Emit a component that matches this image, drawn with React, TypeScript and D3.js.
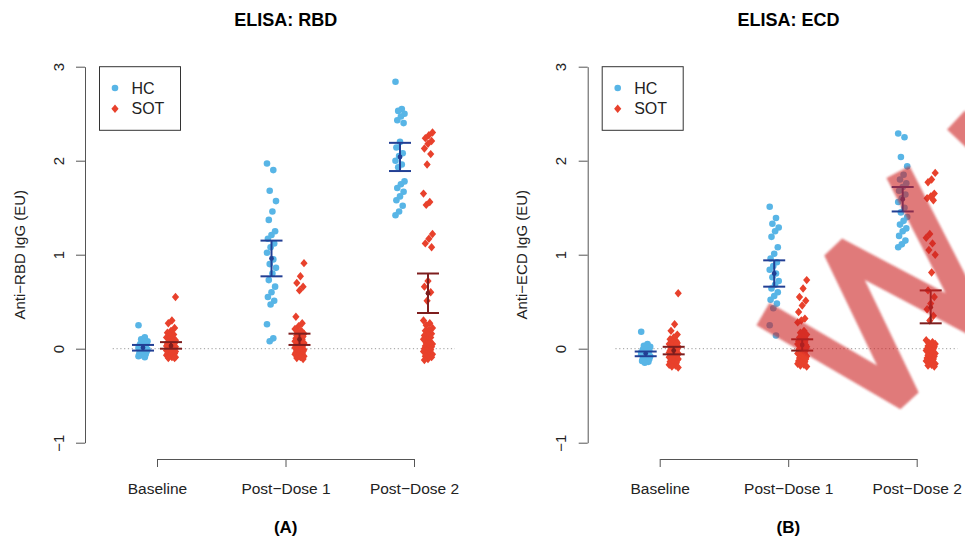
import {useEffect, useRef} from 'react'
import * as d3 from 'd3'

const timepoints = ['Baseline', 'Post\u2212Dose 1', 'Post\u2212Dose 2']
const yTicks = [-1, 0, 1, 2, 3]

// ELISA RBD, healthy controls
const rbdHcBaseline = [0.25, 0.12, 0.10, 0.08, 0.07, 0.05, 0.05, 0.04, 0.03, 0.02, 0.02, 0.01, 0.0, 0.0, -0.01, -0.02, -0.02, -0.03, -0.04, -0.05, -0.06, -0.07, -0.08, -0.09]
const rbdHcDose1 = [1.97, 1.90, 1.68, 1.57, 1.46, 1.37, 1.25, 1.21, 1.17, 1.12, 1.08, 1.02, 0.95, 0.90, 0.86, 0.80, 0.73, 0.66, 0.60, 0.55, 0.51, 0.47, 0.26, 0.11, 0.08]
const rbdHcDose2 = [2.84, 2.55, 2.53, 2.50, 2.47, 2.43, 2.40, 2.20, 2.14, 2.08, 2.05, 2.00, 1.96, 1.93, 1.78, 1.75, 1.71, 1.67, 1.62, 1.58, 1.52, 1.46, 1.42]
// ELISA RBD, transplant recipients
const rbdSotBaseline = [0.55, 0.30, 0.27, 0.22, 0.19, 0.17, 0.15, 0.14, 0.12, 0.11, 0.10, 0.09, 0.08, 0.07, 0.06, 0.06, 0.05, 0.04, 0.04, 0.03, 0.03, 0.02, 0.02, 0.01, 0.01, 0.0, 0.0, 0.0, -0.01, -0.01, -0.02, -0.02, -0.03, -0.03, -0.04, -0.04, -0.05, -0.05, -0.06, -0.06, -0.07, -0.07, -0.08, -0.08, -0.09, -0.09, -0.10, -0.10]
const rbdSotDose1 = [0.91, 0.77, 0.70, 0.66, 0.62, 0.34, 0.27, 0.24, 0.21, 0.19, 0.17, 0.16, 0.15, 0.14, 0.13, 0.12, 0.11, 0.10, 0.09, 0.08, 0.08, 0.07, 0.06, 0.05, 0.05, 0.04, 0.03, 0.03, 0.02, 0.01, 0.01, 0.0, 0.0, -0.01, -0.02, -0.02, -0.03, -0.04, -0.04, -0.05, -0.06, -0.06, -0.07, -0.08, -0.08, -0.09, -0.10, -0.11]
const rbdSotDose2 = [2.30, 2.27, 2.24, 2.21, 2.18, 2.13, 2.07, 1.96, 1.65, 1.56, 1.53, 1.22, 1.17, 1.12, 1.08, 0.72, 0.66, 0.60, 0.51, 0.30, 0.27, 0.25, 0.22, 0.20, 0.19, 0.16, 0.15, 0.14, 0.12, 0.10, 0.10, 0.08, 0.06, 0.05, 0.05, 0.03, 0.02, 0.0, 0.0, -0.01, -0.02, -0.03, -0.04, -0.05, -0.06, -0.07, -0.08, -0.09, -0.11, -0.12]
// mean and 95% CI
const rbdHcMean = [0.01, 0.96, 2.04]
const rbdHcLow = [-0.02, 0.77, 1.89]
const rbdHcHigh = [0.04, 1.15, 2.19]
const rbdSotMean = [0.03, 0.10, 0.59]
const rbdSotLow = [0.0, 0.04, 0.38]
const rbdSotHigh = [0.07, 0.16, 0.80]

// ELISA ECD, healthy controls
const ecdHcBaseline = [0.18, 0.05, 0.03, 0.02, 0.0, -0.01, -0.02, -0.03, -0.04, -0.05, -0.05, -0.06, -0.07, -0.08, -0.08, -0.09, -0.10, -0.11, -0.12, -0.13, -0.14, -0.15, -0.04, -0.06]
const ecdHcDose1 = [1.51, 1.39, 1.33, 1.29, 1.25, 1.19, 1.08, 1.01, 0.96, 0.92, 0.88, 0.84, 0.80, 0.76, 0.72, 0.68, 0.64, 0.60, 0.56, 0.52, 0.48, 0.43, 0.25, 0.14]
const ecdHcDose2 = [2.29, 2.25, 2.04, 1.94, 1.85, 1.80, 1.76, 1.72, 1.68, 1.64, 1.60, 1.56, 1.50, 1.45, 1.40, 1.36, 1.32, 1.28, 1.25, 1.20, 1.15, 1.11, 1.08]
// ELISA ECD, transplant recipients
const ecdSotBaseline = [0.59, 0.26, 0.19, 0.15, 0.12, 0.10, 0.08, 0.07, 0.05, 0.04, 0.03, 0.02, 0.01, 0.0, 0.0, -0.01, -0.02, -0.02, -0.03, -0.04, -0.04, -0.05, -0.05, -0.06, -0.06, -0.07, -0.07, -0.08, -0.08, -0.09, -0.09, -0.10, -0.10, -0.11, -0.11, -0.12, -0.12, -0.13, -0.14, -0.15, -0.16, -0.17, -0.18, -0.19, -0.20, -0.03, -0.05, 0.06]
const ecdSotDose1 = [0.73, 0.64, 0.55, 0.51, 0.46, 0.39, 0.32, 0.30, 0.28, 0.19, 0.17, 0.15, 0.13, 0.12, 0.10, 0.09, 0.08, 0.07, 0.06, 0.05, 0.04, 0.03, 0.02, 0.01, 0.0, 0.0, -0.01, -0.02, -0.03, -0.04, -0.05, -0.06, -0.07, -0.08, -0.09, -0.10, -0.11, -0.12, -0.13, -0.14, -0.15, -0.16, -0.17, -0.18, -0.19, -0.05, -0.02, 0.04]
const ecdSotDose2 = [1.87, 1.80, 1.77, 1.65, 1.62, 1.60, 1.58, 1.22, 1.18, 1.12, 1.05, 1.00, 0.81, 0.62, 0.55, 0.48, 0.42, 0.35, 0.30, 0.09, 0.07, 0.06, 0.05, 0.04, 0.03, 0.02, 0.01, 0.0, 0.0, -0.01, -0.02, -0.03, -0.04, -0.05, -0.06, -0.07, -0.08, -0.09, -0.10, -0.11, -0.12, -0.13, -0.14, -0.15, -0.16, -0.17, -0.18, -0.19]
const ecdHcMean = [-0.05, 0.80, 1.59]
const ecdHcLow = [-0.08, 0.66, 1.46]
const ecdHcHigh = [-0.03, 0.94, 1.72]
const ecdSotMean = [-0.02, 0.04, 0.44]
const ecdSotLow = [-0.06, -0.02, 0.27]
const ecdSotHigh = [0.02, 0.10, 0.62]

const panels = [
    {title: 'ELISA: RBD', ylab: 'Anti\u2212RBD IgG (EU)', tag: '(A)', offset: 0,
        hc: [rbdHcBaseline, rbdHcDose1, rbdHcDose2], sot: [rbdSotBaseline, rbdSotDose1, rbdSotDose2],
        hcStats: [rbdHcMean, rbdHcLow, rbdHcHigh], sotStats: [rbdSotMean, rbdSotLow, rbdSotHigh]},
    {title: 'ELISA: ECD', ylab: 'Anti\u2212ECD IgG (EU)', tag: '(B)', offset: 502.7,
        hc: [ecdHcBaseline, ecdHcDose1, ecdHcDose2], sot: [ecdSotBaseline, ecdSotDose1, ecdSotDose2],
        hcStats: [ecdHcMean, ecdHcLow, ecdHcHigh], sotStats: [ecdSotMean, ecdSotLow, ecdSotHigh]},
]

const HC_COL = '#58b5e6'
const SOT_COL = '#e8412c'
const HC_BAR = '#223f94'
const SOT_BAR = '#7e1e1e'
const FONT = '"Liberation Sans", Arial, Helvetica, sans-serif'
const diamond = 'M0,-4.2L3.6,0L0,4.2L-3.6,0Z'

// small fixed horizontal spread, like R's jitter
const jit = (i: number) => (((i * 7) % 11) - 5) * 0.9

function App(){
    const svg = useRef<SVGSVGElement>(null)

    useEffect(() => {
        const root = d3.select(svg.current)
        root.selectAll('*').remove()

        const y = d3.scaleLinear().domain([-1, 3]).range([442.7, 66.7])
        const x = d3.scalePoint().domain(timepoints).range([157, 414])

        panels.forEach((p) => {
            const g = root.append('g').attr('transform', `translate(${p.offset},0)`)

            //Title and panel tag
            g.append('text').attr('x', 285.7).attr('y', 25.5)
                .attr('text-anchor', 'middle').style('font', `bold 18px ${FONT}`).text(p.title)
            g.append('text').attr('x', 285.7).attr('y', 533)
                .attr('text-anchor', 'middle').style('font', `bold 17px ${FONT}`).text(p.tag)

            //Zero reference line
            g.append('line').attr('x1', 112.7).attr('x2', 455)
                .attr('y1', y(0)).attr('y2', y(0))
                .attr('stroke', '#9a9a9a').attr('stroke-dasharray', '1.2,2.6')

            //Axes
            const ya = g.append('g').attr('transform', 'translate(85,0)')
                .call(d3.axisLeft(y).tickValues(yTicks).tickSize(9).tickSizeOuter(0).tickFormat(d => d3.format('d')(d as number).replace('-', '\u2212')))
            ya.selectAll('path, line').attr('stroke', '#555')
            ya.selectAll('text')
                .attr('x', null).attr('dy', null)
                .attr('transform', 'translate(-21.5,0) rotate(-90)')
                .attr('text-anchor', 'middle').attr('fill', '#222')
                .style('font', `15px ${FONT}`)

            const xa = g.append('g').attr('transform', 'translate(0,459)')
                .call(d3.axisBottom(x).tickSize(8).tickSizeOuter(0))
            xa.selectAll('path, line').attr('stroke', '#555')
            xa.selectAll('text').attr('y', 34.5).attr('dy', null)
                .attr('fill', '#222').style('font', `15.5px ${FONT}`)

            g.append('text')
                .attr('transform', `translate(24.5,${(y(-1) + y(3)) / 2}) rotate(-90)`)
                .attr('text-anchor', 'middle').attr('fill', '#222')
                .style('font', `15px ${FONT}`).text(p.ylab)

            //Points
            timepoints.forEach((t, k) => {
                const cx = x(t) as number
                g.append('g').selectAll('circle')
                    .data(p.hc[k])
                    .join('circle')
                        .attr('cx', (d, i) => cx - 14 + jit(i))
                        .attr('cy', d => y(d))
                        .attr('r', 3.3)
                        .attr('fill', HC_COL)
                g.append('g').selectAll('path')
                    .data(p.sot[k])
                    .join('path')
                        .attr('d', diamond)
                        .attr('transform', (d, i) => `translate(${cx + 14 + jit(i + 3)},${y(d)})`)
                        .attr('fill', SOT_COL)
            })

            //Error bars: mean with 95% CI
            const bars = [
                {stats: p.hcStats, dx: -14, col: HC_BAR},
                {stats: p.sotStats, dx: 14, col: SOT_BAR},
            ]
            bars.forEach((b) => {
                timepoints.forEach((t, k) => {
                    const cx = (x(t) as number) + b.dx
                    const [m, lo, hi] = [b.stats[0][k], b.stats[1][k], b.stats[2][k]]
                    const eb = g.append('g').attr('stroke', b.col).attr('stroke-width', 2)
                    eb.append('line').attr('x1', cx).attr('x2', cx).attr('y1', y(lo)).attr('y2', y(hi))
                    eb.append('line').attr('x1', cx - 11).attr('x2', cx + 11).attr('y1', y(lo)).attr('y2', y(lo))
                    eb.append('line').attr('x1', cx - 11).attr('x2', cx + 11).attr('y1', y(hi)).attr('y2', y(hi))
                    g.append('circle').attr('cx', cx).attr('cy', y(m)).attr('r', 2.4).attr('fill', b.col)
                })
            })

            //Legend
            const lg = g.append('g')
            lg.append('rect').attr('x', 99.5).attr('y', 66.7).attr('width', 81).attr('height', 63.6)
                .attr('fill', 'white').attr('stroke', '#333').attr('stroke-width', 1)
            lg.append('circle').attr('cx', 115).attr('cy', 88).attr('r', 3.3).attr('fill', HC_COL)
            lg.append('path').attr('d', diamond).attr('transform', 'translate(115,108.7)').attr('fill', SOT_COL)
            lg.append('text').attr('x', 131.5).attr('y', 88).attr('dy', '0.36em')
                .style('font', `16px ${FONT}`).attr('fill', '#222').text('HC')
            lg.append('text').attr('x', 131.5).attr('y', 108.7).attr('dy', '0.36em')
                .style('font', `16px ${FONT}`).attr('fill', '#222').text('SOT')
        })

        //Watermark stroke across the right panel
        const defs = root.append('defs')
        defs.append('filter').attr('id', 'soft').append('feGaussianBlur').attr('stdDeviation', 1.1)
        const wm = root.append('g').attr('opacity', 0.6).attr('filter', 'url(#soft)')
        const line = d3.line()
        wm.append('path')
            .attr('d', line([[763, 314], [907, 398], [836, 250], [976, 324], [898, 172]]))
            .attr('fill', 'none').attr('stroke', 'rgb(205,35,35)').attr('stroke-width', 26)
            .attr('stroke-linejoin', 'bevel')
        wm.append('path')
            .attr('d', line([[956, 120], [1030, 190]]))
            .attr('fill', 'none').attr('stroke', 'rgb(205,35,35)').attr('stroke-width', 26)
    }, [])

    return(
        <svg ref={svg} width={965} height={538}
            style={{position: 'absolute', left: 0, top: 0, background: 'white'}}></svg>
    )
}

export default App
